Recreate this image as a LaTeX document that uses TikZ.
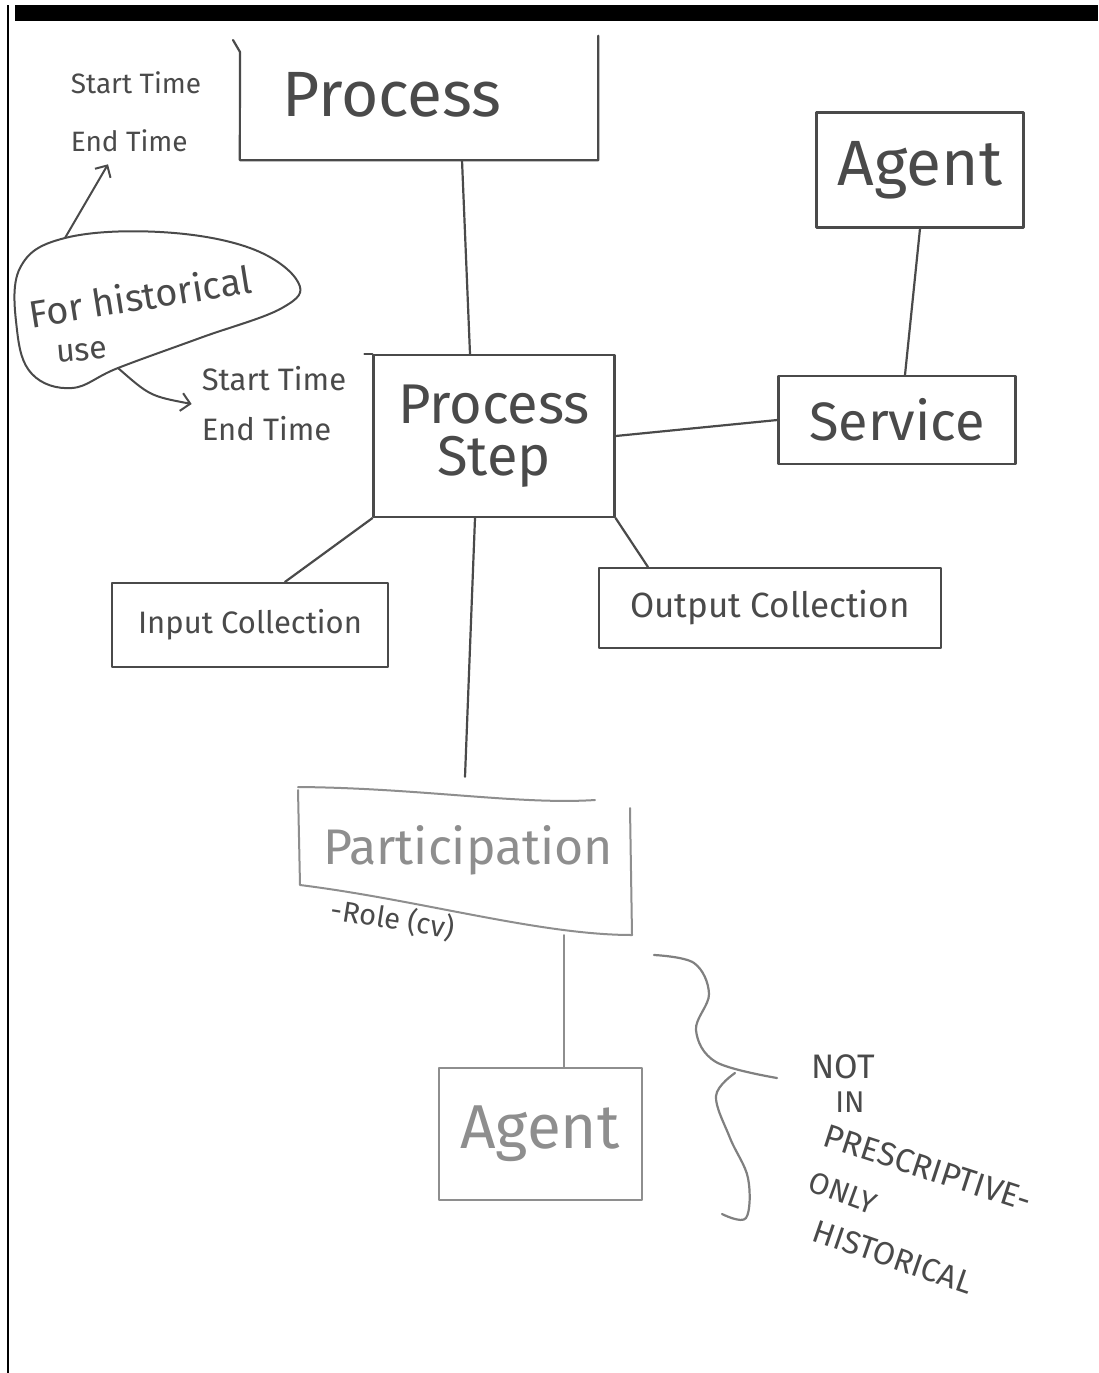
\documentclass[tikz,border=0pt]{standalone}
\usepackage{fontspec}
\setmainfont{Fira Sans}
\usetikzlibrary{arrows.meta,calc}
\definecolor{ink}{HTML}{4A4A4A}
\definecolor{pale}{HTML}{8E8E8E}
\newcommand\fs[2]{\fontsize{#1}{#2}\selectfont}
\begin{document}
\begin{tikzpicture}[x=1pt,y=-1pt,
  pen/.style={draw=ink, line width=2.2pt, line cap=round, line join=round},
  palepen/.style={draw=pale, line width=2pt, line cap=round, line join=round},
  box/.style={pen, inner sep=0pt, text=ink},
  palebox/.style={palepen, inner sep=0pt, text=pale},
  note/.style={text=ink, inner sep=0pt},
  barb/.style={-{Straight Barb[length=9pt,width=18pt,line width=2pt]}}]
\useasboundingbox (0,0) rectangle (1098,1373);
\fill[white] (0,0) rectangle (1098,1373);

% page frame
\fill[black] (15,5) rectangle (1098,21);
\draw[black, line width=2pt] (8,5) -- (8,1373);

% Process (open-topped box)
\node[minimum width=358, minimum height=124, inner sep=0pt] (proc) at (419,98) {};
\node[note, font=\fs{64}{70}] (proctext) at (392,95) {Process};
\draw[pen] (233,40) -- (240,52) -- (proc.south west) -- (proc.south east) -- (proc.north east);

% Process Step
\node[box, minimum width=241, minimum height=162, align=center, font=\fs{56}{52}] (ps) at (494,436) {Process\\Step};
\draw[pen] (ps.north west) -- ++(-8,0);

% Agent and Service (top right)
\node[box, minimum width=207, minimum height=115, font=\fs{64}{70}] (agent) at (920,170) {Agent};
\node[box, minimum width=237, minimum height=88, font=\fs{54}{60}] (serv) at (897,420) {Service};

% Input / Output collections
\node[box, minimum width=276, minimum height=84, font=\fs{31}{36}] (in) at (250,625) {Input Collection};
\node[box, minimum width=342, minimum height=80, font=\fs{35}{40}] (out) at (770,608) {Output Collection};

% Participation (hand-drawn outline)
\node[minimum width=334, minimum height=148, inner sep=0pt] (part) at (465,861) {};
\node[text=pale, inner sep=0pt, font=\fs{50}{56}] (parttext) at (468,850) {Participation};
\draw[palepen] (298,787) .. controls (420,788) and (520,805) .. (595,800);
\draw[palepen] (298,790) -- (300,885) .. controls (420,900) and (540,935) .. (632,935) -- (630,808);
\node[note, font=\fs{29}{34}, rotate=-9] (role) at (393,919) {-Role (cv)};

% Agent (bottom)
\node[palebox, minimum width=203, minimum height=132, font=\fs{62}{68}] (agent2) at (540,1134) {Agent};

% connectors
\draw[pen] ($(ps.north)+(-24,0)$) -- ($(proc.south)+(43,0)$);
\draw[pen] (ps.east) -- (serv.west);
\draw[pen] ($(serv.north)+(8,0)$) -- (agent.south);
\draw[pen] (ps.south west) -- ($(in.north)+(35,0)$);
\draw[pen] (ps.south east) -- ($(out.north west)+(50,0)$);
\draw[pen] ($(ps.south)+(-19,0)$) -- ($(part.north)+(0,-10)$);
\coordinate (pa) at ($(agent2.north)+(24,0)$);
\draw[palepen] (pa) -- (pa |- part.south);

% "For historical use" cloud
\draw[pen, line width=2pt] plot[smooth cycle, tension=0.65] coordinates
  {(20,268) (65,238) (160,232) (250,248) (298,282) (282,308) (200,338) (118,368) (72,388) (32,374) (17,330)};
\node[note, font=\fs{38}{44}, rotate=9] (hist) at (140,296) {For historical};
\node[note, font=\fs{32}{36}, rotate=5] (use) at (82,352) {use};

% time attributes
\node[note, font=\fs{28}{58}, align=left] (times1) at (136,112) {Start Time\\End Time};
\node[note, font=\fs{31}{50}, align=left] (times2) at (274,404) {Start Time\\End Time};
\coordinate (b1) at (65,238);
\coordinate (b2) at (118,368);
\draw[pen, line width=2pt, barb] (b1) -- ([xshift=-28pt,yshift=-12pt]times1.south);
\draw[pen, line width=2pt, barb] (b2) .. controls (150,396) .. ([xshift=-10pt]times2.west);

% brace with note
\draw[draw=pale!90!black, line width=2.2pt, line cap=round] plot[smooth, tension=0.6] coordinates
  {(654,955) (694,963) (709,994) (696,1030) (716,1062) (777,1078)};
\draw[draw=pale!90!black, line width=2.2pt, line cap=round] plot[smooth, tension=0.6] coordinates
  {(735,1073) (716,1096) (730,1138) (748,1178) (746,1218) (722,1214)};
\node[note, font=\fs{34}{40}] (n1) at (843,1067) {NOT};
\node[note, font=\fs{30}{36}] (n2) at (850,1102) {IN};
\node[note, font=\fs{33}{38}, rotate=-18] (n3) at (928,1168) {PRESCRIPTIVE-};
\node[note, font=\fs{30}{36}, rotate=-20] (n4) at (843,1193) {ONLY};
\node[note, font=\fs{32}{38}, rotate=-19] (n5) at (893,1257) {HISTORICAL};
\end{tikzpicture}
\end{document}
